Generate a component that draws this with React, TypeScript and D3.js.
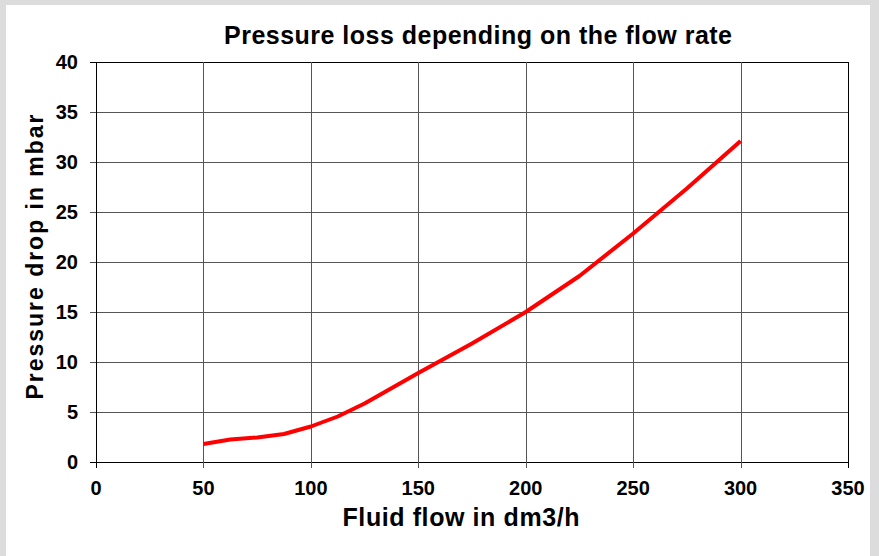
import * as d3 from "d3";

// flow rate in dm3/h and pressure drop in mbar
const flowRate = [50, 62.5, 75, 87.5, 100, 112.5, 125, 150, 175, 200, 225, 250, 275, 300];
const pressureDrop = [1.8, 2.25, 2.45, 2.8, 3.55, 4.55, 5.85, 8.9, 11.85, 15.0, 18.6, 22.85, 27.35, 32.1];
const xTicks = [0, 50, 100, 150, 200, 250, 300, 350];
const yTicks = [0, 5, 10, 15, 20, 25, 30, 35, 40];

const title = "Pressure loss depending on the flow rate";
const xTitle = "Fluid flow in dm3/h";
const yTitle = "Pressure drop in mbar";

const W = 879;
const H = 556;
const plot = { left: 96, right: 848, top: 62, bottom: 462 };
const font = "'Liberation Sans', Arial, sans-serif";

export default function App() {
  const x = d3.scaleLinear().domain([0, 350]).range([plot.left, plot.right]);
  const y = d3.scaleLinear().domain([0, 40]).range([plot.bottom, plot.top]);

  const points: [number, number][] = flowRate.map((f, i) => [f, pressureDrop[i]]);
  const line = d3
    .line<[number, number]>()
    .x((d) => x(d[0]))
    .y((d) => y(d[1]));

  return (
    <svg
      width={W}
      height={H}
      style={{ position: "absolute", left: 0, top: 0, display: "block" }}
      fontFamily={font}
    >
      <rect x={0} y={0} width={W} height={H} fill="#dcdcdc" />
      <rect x={6} y={5} width={864} height={H} fill="#ffffff" />

      {/* grid */}
      {yTicks.map((t) => (
        <line
          key={"gy" + t}
          x1={plot.left - 6}
          x2={plot.right}
          y1={Math.round(y(t)) + 0.5}
          y2={Math.round(y(t)) + 0.5}
          stroke={t === 0 || t === 40 ? "#000" : "#555"}
          strokeWidth={1}
        />
      ))}
      {xTicks.map((t) => (
        <line
          key={"gx" + t}
          x1={Math.round(x(t)) + 0.5}
          x2={Math.round(x(t)) + 0.5}
          y1={plot.top}
          y2={plot.bottom + 6}
          stroke={t === 0 || t === 350 ? "#000" : "#555"}
          strokeWidth={1}
        />
      ))}

      {/* series */}
      <path d={line(points) ?? ""} fill="none" stroke="#ff0000" strokeWidth={4} strokeLinejoin="round" />

      {/* tick labels */}
      {yTicks.map((t) => (
        <text
          key={"ly" + t}
          x={78}
          y={y(t)}
          dy="0.36em"
          textAnchor="end"
          fontSize={20}
          fontWeight="bold"
        >
          {t}
        </text>
      ))}
      {xTicks.map((t) => (
        <text key={"lx" + t} x={x(t)} y={495} textAnchor="middle" fontSize={20} fontWeight="bold">
          {t}
        </text>
      ))}

      {/* titles */}
      <text x={478} y={44} textAnchor="middle" fontSize={25} fontWeight="bold" textLength={508} lengthAdjust="spacing">
        {title}
      </text>
      <text x={461} y={526} textAnchor="middle" fontSize={25} fontWeight="bold" textLength={237} lengthAdjust="spacing">
        {xTitle}
      </text>
      <text
        transform="translate(43,257) rotate(-90)"
        textAnchor="middle"
        fontSize={23}
        fontWeight="bold"
        textLength={285}
        lengthAdjust="spacing"
      >
        {yTitle}
      </text>
    </svg>
  );
}
